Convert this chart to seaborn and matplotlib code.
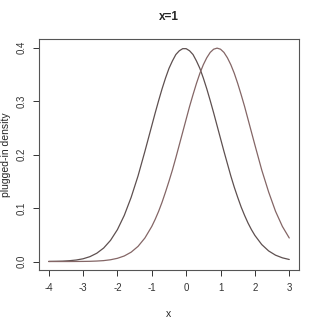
import matplotlib
matplotlib.use("Agg")
import matplotlib.pyplot as plt
import seaborn as sns
import pandas as pd

x_vals = [-4.0, -3.8, -3.6, -3.4, -3.2, -3.0, -2.8, -2.6, -2.4, -2.2, -2.0, -1.8,
          -1.6, -1.4, -1.2, -1.0, -0.9, -0.8, -0.7, -0.6, -0.5, -0.4, -0.3, -0.2, -0.1,
          0.0, 0.1, 0.2, 0.3, 0.4, 0.5, 0.6, 0.7, 0.8, 0.9, 1.0, 1.1, 1.2, 1.3, 1.4, 1.5,
          1.6, 1.7, 1.8, 1.9, 2.0, 2.2, 2.4, 2.6, 2.8, 3.0]
density_a = [0.0002, 0.0004, 0.0007, 0.0015, 0.0028, 0.0051, 0.0091, 0.0155, 0.0252, 0.0396, 0.0596, 0.0863,
             0.120, 0.160, 0.206, 0.254, 0.278, 0.301, 0.323, 0.343, 0.361, 0.375, 0.387, 0.394, 0.398,
             0.398, 0.394, 0.387, 0.375, 0.361, 0.343, 0.323, 0.301, 0.278, 0.254, 0.230, 0.206, 0.183, 0.160, 0.139, 0.120,
             0.102, 0.0863, 0.0720, 0.0596, 0.0488, 0.0317, 0.0198, 0.0119, 0.0069, 0.0038]
density_b = [0.0000, 0.0000, 0.0000, 0.0000, 0.0001, 0.0002, 0.0004, 0.0009, 0.0017, 0.0033, 0.0060, 0.0104,
             0.0175, 0.0283, 0.0440, 0.0656, 0.0790, 0.0940, 0.111, 0.130, 0.150, 0.171, 0.194, 0.218, 0.242,
             0.266, 0.290, 0.312, 0.333, 0.352, 0.368, 0.381, 0.391, 0.397, 0.399, 0.397, 0.391, 0.381, 0.368, 0.352, 0.333,
             0.312, 0.290, 0.266, 0.242, 0.218, 0.171, 0.130, 0.0940, 0.0656, 0.0440]
x_ticks = [-4, -3, -2, -1, 0, 1, 2, 3]
y_ticks = [0.0, 0.1, 0.2, 0.3, 0.4]

sns.set_style("white")
plt.rcParams['font.family'] = ['Liberation Sans', 'DejaVu Sans']

fig = plt.figure(figsize=(3.2, 3.2), dpi=100)
ax = fig.add_axes([0.122, 0.156, 0.812, 0.722])

df_a = pd.DataFrame({"x": x_vals, "y": density_a})
df_b = pd.DataFrame({"x": x_vals, "y": density_b})
sns.lineplot(data=df_a, x="x", y="y", ax=ax, color="#5e5050", linewidth=0.9)
sns.lineplot(data=df_b, x="x", y="y", ax=ax, color="#846666", linewidth=0.9)

ax.set_xlim(-4.28, 3.28)
ax.set_ylim(-0.016, 0.416)
ax.set_xticks(x_ticks)
ax.set_xticklabels([str(t) for t in x_ticks])
ax.set_yticks(y_ticks)
ax.set_yticklabels([f"{t:.1f}" for t in y_ticks], rotation=90, va="center")
ax.tick_params(direction="out", length=4, width=0.7, colors="#333333",
               labelsize=7, bottom=True, left=True, pad=5)
for s in ax.spines.values():
    s.set_color("#555555")
    s.set_linewidth(0.8)
ax.set_xlabel("x", fontsize=7.5, labelpad=12)
ax.set_ylabel("plugged-in density", fontsize=7.5, labelpad=4)
ax.set_title("x=1", fontsize=8.5, fontweight="bold", pad=14)

fig.savefig("out.png", dpi=100)
